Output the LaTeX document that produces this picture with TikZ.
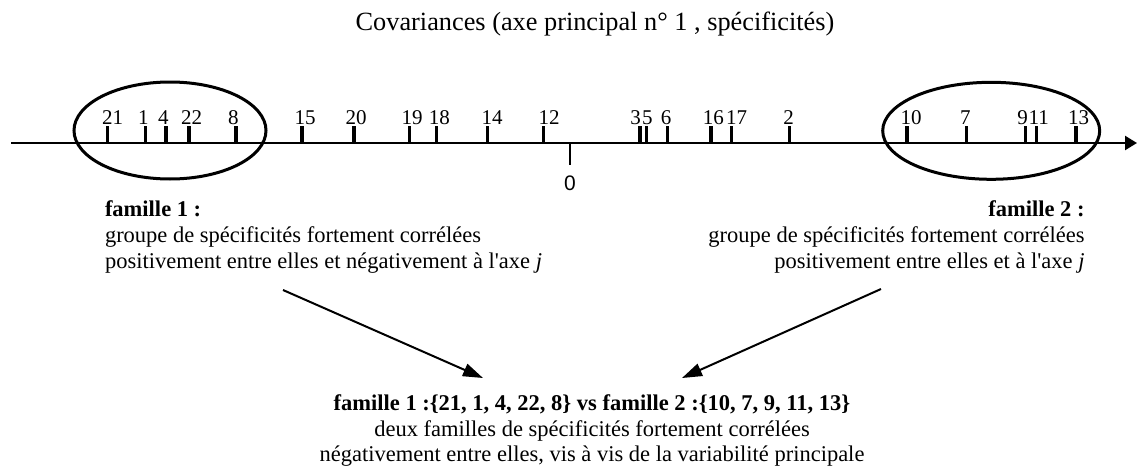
\documentclass[tikz,border=0pt]{standalone}
\usepackage{fontspec}
\setmainfont{Liberation Serif}
\newfontfamily\zerofont{Liberation Sans}
\usetikzlibrary{arrows.meta,positioning,shapes.geometric}

\begin{document}
\begin{tikzpicture}[
  x=1pt, y=-1pt,
  every node/.style={inner sep=0pt, outer sep=0pt},
  axe/.style={line width=2.3pt, -{Triangle[length=12pt,width=14pt]}},
  graduation/.style={line width=3.2pt},
  numero/.style={font=\fontsize{21}{24}\selectfont, anchor=base},
  famille/.style={draw, ellipse, line width=3pt, minimum width=#1, minimum height=97pt},
  legende/.style={font=\fontsize{22.5}{26}\selectfont},
  fleche/.style={line width=2pt, -{Triangle[length=20pt,width=13pt]}}
]
\useasboundingbox (0,0) rectangle (1137,471);
\node[font=\fontsize{26.3}{30}\selectfont, anchor=base] (titre) at (595,30)
  {Covariances (axe principal n° 1 , spécificités)};
% axe principal
\coordinate (debut) at (11,143);
\coordinate (fin) at (1137,143);
\draw[axe] (debut) -- (fin);
\foreach \pos/\lab/\num in {107.3/112.7/21, 145.7/143.3/1, 166/163.3/4, 189/191.7/22,
    236/233.3/8, 302/305/15, 354/356/20, 409.3/412/19, 436.7/439.3/18, 487.3/492/14,
    543.3/549/12, 640/635.7/3, 646.7/647.3/5, 667.7/666/6, 711/713.3/16, 731.7/736.7/17,
    789.7/788.7/2, 907/911/10, 966.3/965.3/7, 1025.3/1022.7/9, 1036.3/1038.7/11, 1076/1078.7/13}
{
  \coordinate (g\num) at (\pos,143);
  \draw[graduation] (g\num) -- ++(0,-17);
  \node[numero] (n\num) at (\lab,124) {\num};
}
% origine
\coordinate (g0) at (570,143);
\draw[graduation, line width=2.7pt] (g0) -- ++(0,22);
\node[anchor=base, font=\zerofont\fontsize{21}{24}\selectfont] (zero) at (570,190) {0};
% les deux familles
\node[famille=192pt] (fam1) at (170,130.5) {};
\node[famille=217pt] (fam2) at (991.2,130.8) {};
\node[legende, anchor=base west, align=left] (txt1) at (105,268.5)
  {\textbf{famille 1 :}\\groupe de spécificités fortement corrélées\\positivement entre elles et négativement à l\textquotesingle axe \textit{j}};
\node[legende, anchor=base east, align=right] (txt2) at (1084.5,268.5)
  {\textbf{famille 2 :}\\groupe de spécificités fortement corrélées\\positivement entre elles et à l\textquotesingle axe \textit{j}};
% bilan
\node[legende, font=\fontsize{22.5}{25.6}\selectfont, anchor=base, align=center] (bilan) at (592,461.8)
  {\textbf{famille 1 :\{21, 1, 4, 22, 8\} vs famille 2 :\{10, 7, 9, 11, 13\}}\\deux familles de spécificités fortement corrélées\\négativement entre elles, vis à vis de la variabilité principale};
\coordinate (d1) at (283,290);
\coordinate (a1) at (483,378);
\coordinate (d2) at (881,289);
\coordinate (a2) at (682,378);
\draw[fleche] (d1) -- (a1);
\draw[fleche] (d2) -- (a2);
\end{tikzpicture}
\end{document}
